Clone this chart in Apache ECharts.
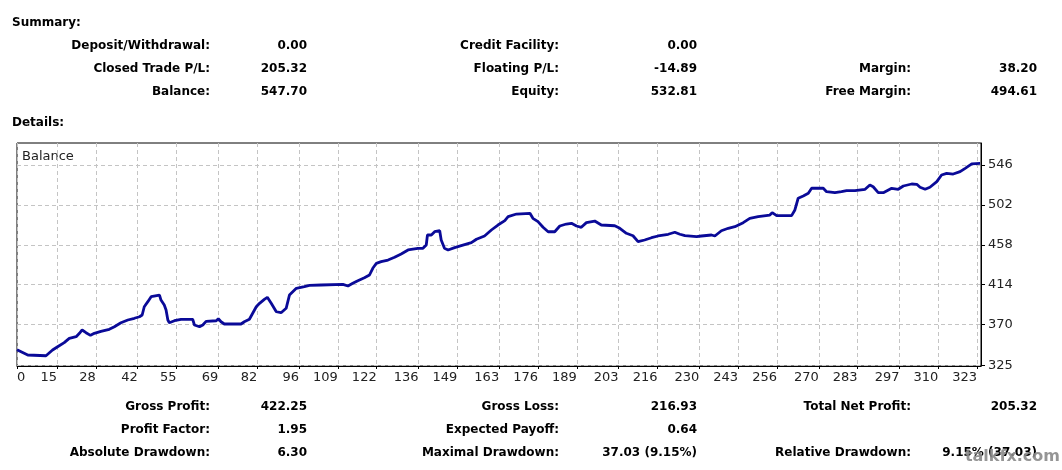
<!DOCTYPE html>
<html>
<head>
<meta charset="utf-8">
<title>Balance</title>
<script src="https://cdn.jsdelivr.net/npm/echarts@6/dist/echarts.min.js"></script>
<style>
    html, body { margin: 0; padding: 0; background: #fff; }
    #main { width: 1062px; height: 470px; }
</style>
</head>
<body>
<div id="main"></div>
<script>
// trade number (x) and balance (y)
var tradeNo = [1.6, 5.2, 5.7, 11.3, 11.9, 13.5, 15.2, 17.4, 19.1, 21.4,
    22.5, 23.4, 24.7, 26.2, 27.5, 29.7, 32.5, 34.2, 36.4, 38.7,
    40.9, 42.6, 43.5, 44.2, 45.4, 46.5, 49.3, 49.8, 50.9, 51.5,
    52.1, 52.6, 54.3, 56.5, 60.4, 61.0, 62.7, 63.8, 64.9, 68.3,
    69.0, 69.9, 71.0, 76.6, 77.7, 79.4, 80.5, 81.7, 82.8, 84.4,
    85.4, 86.7, 88.4, 90.0, 91.7, 92.8, 95.1, 97.8, 99.5, 103.4,
    110.7, 112.4, 114.0, 115.7, 117.9, 119.6, 120.7, 121.9, 123.5, 125.8,
    128.0, 130.2, 132.5, 135.8, 137.5, 138.6, 139.0, 140.3, 141.4, 143.1,
    143.6, 144.7, 145.9, 148.1, 150.3, 153.7, 155.4, 158.1, 160.4, 162.6,
    164.9,
    166.0, 168.8, 173.3, 174.3, 176.0, 177.7, 179.4, 181.6, 183.3, 185.5,
    187.2, 188.9, 190.5, 192.2, 195.0, 197.2, 201.7, 203.4, 205.6, 207.8,
    209.5, 211.7, 214.0, 216.2, 219.6, 221.8, 223.5, 225.2, 229.1, 230.7,
    234.1, 235.2, 237.4, 239.7, 241.9, 244.7,
    246.9, 249.7, 253.6, 254.4, 255.9, 260.9, 262.0, 263.1, 264.8, 266.5,
    267.6, 271.5, 272.6, 275.4, 277.6, 279.3, 282.1, 285.5, 287.1, 288.2,
    289.9, 291.6, 294.4, 296.6, 298.3, 301.1, 302.8, 303.9, 305.6, 307.2,
    309.5, 311.1, 312.8, 315.0, 317.3, 319.0, 321.2, 324.0];

var balance = [342.4, 336.5, 335.7, 335.7, 337.6, 342.0, 345.6, 350.1, 354.9, 356.7,
    360.4, 364.1, 361.1, 358.2, 360.4, 362.6, 364.8, 367.7, 372.1, 375.1,
    377.0, 378.7, 380.6, 389.7, 395.3, 400.8, 402.6, 397.1, 391.6, 386.1,
    375.1, 372.1, 374.3, 375.9, 375.9, 369.6, 367.7, 369.6, 373.6, 374.3,
    376.5, 373.2, 370.7, 370.7, 373.2, 375.9, 382.5, 389.7, 393.5, 397.9,
    400.1, 393.5, 384.2, 383.1, 388.0, 402.6, 410.0, 411.8, 413.3, 413.7,
    414.4, 412.6, 415.5, 418.4, 421.7, 424.7, 432.1, 437.6, 439.4, 441.2,
    444.2, 447.8, 452.3, 454.1, 454.1, 457.8, 468.8, 468.8, 472.4, 473.5,
    463.3, 454.1, 452.3, 454.8, 457.0, 460.3, 464.1, 467.7, 474.3, 479.8,
    484.6,
    489.0, 491.9, 492.7, 487.2, 483.5, 477.3, 472.4, 472.4, 478.7, 480.9,
    481.7, 478.7, 477.3, 482.4, 484.2, 479.8, 479.0, 476.2, 470.7, 468.0,
    461.4, 463.3, 465.8, 467.7, 469.6, 471.8, 469.6, 468.0, 466.9, 467.7,
    468.8, 467.7, 473.5, 476.2, 478.0, 482.4,
    487.2, 489.0, 490.8, 493.4, 490.1, 490.1, 496.4, 509.3, 511.8, 514.8,
    520.3, 520.3, 516.5, 515.4, 516.5, 517.6, 517.6, 519.2, 523.9, 522.0,
    515.4, 515.4, 520.3, 519.2, 522.8, 525.0, 524.7, 521.4, 519.2, 521.4,
    527.6, 534.9, 536.8, 536.0, 538.6, 542.3, 547.1, 547.7];

// axis tick labels as printed on the report
var xTickLabels = [0, 15, 28, 42, 55, 69, 82, 96, 109, 122, 136, 149, 163,
    176, 189, 203, 216, 230, 243, 256, 270, 283, 297, 310, 323];
var yTickLabels = [325, 370, 414, 458, 502, 546];

// visible range of the plot
var X_MIN = 1.6, X_MAX = 324.3;
var Y_MIN = 324.4, Y_MAX = 570.2;

// text blocks above and below the chart
var summaryRows = [
    ['Deposit/Withdrawal:', '0.00', 'Credit Facility:', '0.00', '', ''],
    ['Closed Trade P/L:', '205.32', 'Floating P/L:', '-14.89', 'Margin:', '38.20'],
    ['Balance:', '547.70', 'Equity:', '532.81', 'Free Margin:', '494.61']
];
var detailRows = [
    ['Gross Profit:', '422.25', 'Gross Loss:', '216.93', 'Total Net Profit:', '205.32'],
    ['Profit Factor:', '1.95', 'Expected Payoff:', '0.64', '', ''],
    ['Absolute Drawdown:', '6.30', 'Maximal Drawdown:', '37.03 (9.15%)', 'Relative Drawdown:', '9.15% (37.03)']
];

var chart = echarts.init(document.getElementById('main'));

var points = [];
for (var i = 0; i < tradeNo.length; i++) {
    points.push([tradeNo[i], balance[i]]);
}

var BOLD = 'bold 12px "DejaVu Sans"';
var labelEdges = [210, 559, 911];
var valueEdges = [307, 697, 1037];

function textEl(str, x, y, font, align, color) {
    return {
        type: 'text',
        silent: true,
        style: {
            text: str, x: x, y: y, font: font,
            align: align, textAlign: align,
            verticalAlign: 'middle', textVerticalAlign: 'middle',
            fill: color || '#000'
        }
    };
}

function rowsToText(rows, yStart, step) {
    var out = [];
    rows.forEach(function (row, r) {
        var y = yStart + r * step;
        for (var c = 0; c < 3; c++) {
            if (row[c * 2]) out.push(textEl(row[c * 2], labelEdges[c], y, BOLD, 'right'));
            if (row[c * 2 + 1]) out.push(textEl(row[c * 2 + 1], valueEdges[c], y, BOLD, 'right'));
        }
    });
    return out;
}

var graphics = [
    textEl('Summary:', 12, 23, BOLD, 'left'),
    textEl('Details:', 12, 123, BOLD, 'left'),
    textEl('Balance', 22, 157, '13px "DejaVu Sans"', 'left', '#222')
].concat(rowsToText(summaryRows, 46, 23))
 .concat(rowsToText(detailRows, 407, 23));

// site watermark stamped on the screenshot
var mark = textEl('talkfx.com', 1060, 457, 'bold 16px "DejaVu Sans"', 'right', '#8a8a8a');
mark.z = 100;
mark.style.opacity = 0.9;
graphics.push(mark);

var option = {
    animation: false,
    backgroundColor: '#fff',
    textStyle: { fontFamily: 'DejaVu Sans' },
    grid: {
        left: 17, top: 143, right: 81, bottom: 104,
        show: true, borderColor: '#000', borderWidth: 1
    },
    xAxis: {
        type: 'value',
        min: X_MIN,
        max: X_MAX,
        axisLine: { show: true, lineStyle: { color: '#000', width: 1 } },
        axisTick: {
            show: true, length: 3, inside: false,
            customValues: [X_MIN].concat(xTickLabels.slice(1)),
            lineStyle: { color: '#000' }
        },
        axisLabel: {
            customValues: [X_MIN].concat(xTickLabels.slice(1)),
            align: 'right',
            alignMinLabel: 'left',
            margin: 5,
            fontSize: 13,
            color: '#222',
            formatter: function (v) {
                return v < xTickLabels[1] ? String(xTickLabels[0]) : String(v);
            }
        },
        splitLine: {
            show: true,
            lineStyle: { color: '#c4c4c4', type: [4, 3], width: 1 }
        }
    },
    yAxis: {
        type: 'value',
        position: 'right',
        min: Y_MIN,
        max: Y_MAX,
        axisLine: { show: true, lineStyle: { color: '#000', width: 1 } },
        axisTick: {
            show: true, length: 4, inside: false,
            customValues: yTickLabels,
            lineStyle: { color: '#000' }
        },
        axisLabel: {
            customValues: yTickLabels,
            margin: 7,
            fontSize: 13,
            color: '#222'
        },
        splitLine: {
            show: true,
            lineStyle: { color: '#c4c4c4', type: [4, 3], width: 1 }
        }
    },
    series: [{
        name: 'Balance',
        type: 'line',
        data: points,
        showSymbol: false,
        symbol: 'none',
        lineStyle: { color: '#0a0a98', width: 2.8 },
        z: 5
    }],
    graphic: graphics
};

chart.setOption(option);
</script>
</body>
</html>
